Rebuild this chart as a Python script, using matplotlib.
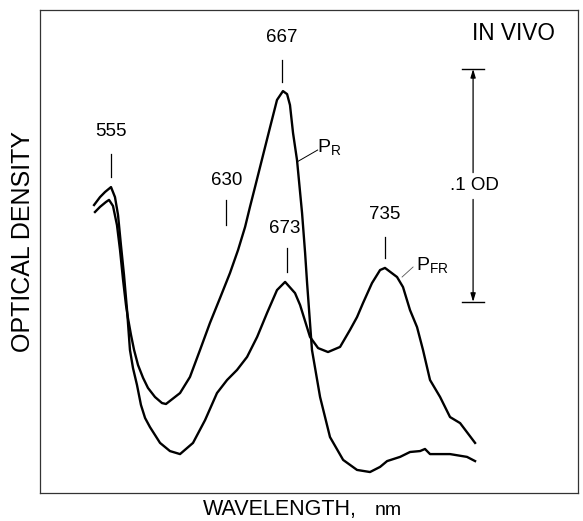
"""
In vivo absorption spectrum of phytochrome (P_R and P_FR forms).
"""
import matplotlib
matplotlib.use("Agg")
import matplotlib.pyplot as plt

plt.rcParams.update({
    "font.family": "Liberation Sans",
    "mathtext.fontset": "custom",
    "mathtext.rm": "Liberation Sans",
    "figure.facecolor": "white", "axes.facecolor": "white",
})

# ── data: wavelength (nm) vs optical density (mOD) ──────────────────────────
pr_wl = [544.5, 547.8, 551.7, 553.7, 556.3, 558.9, 560.9, 562.9, 564.8, 566.1,
         568.1, 570.1, 572.7, 576.0, 579.2, 583.8, 588.4, 591.0, 600.2, 606.7,
         613.3, 619.8, 626.4, 632.9, 638.2, 642.8, 646.0, 649.3, 652.6, 659.2,
         663.7, 667.6, 670.3, 672.2, 674.2, 676.8, 680.1, 682.1, 683.4, 686.6,
         691.9, 698.4, 707.0, 716.1, 724.6, 731.2, 735.8, 744.3, 750.8, 757.4,
         760.6, 763.9, 777.0, 788.1, 793.4]
pr_od = [120.6, 122.8, 124.9, 125.8, 123.2, 115.0, 104.3, 91.4, 80.7, 75.1,
         67.8, 61.4, 54.9, 49.4, 45.1, 41.2, 38.6, 38.2, 42.9, 49.8,
         61.4, 73.0, 83.7, 94.4, 104.3, 114.2, 122.8, 131.3, 139.9, 157.1,
         168.7, 172.5, 171.2, 166.5, 154.5, 142.9, 120.2, 103.0, 90.1, 61.4,
         41.2, 24.0, 14.2, 9.9, 9.0, 11.2, 13.7, 15.5, 17.6, 18.0,
         18.9, 16.7, 16.7, 15.5, 13.7]

pfr_wl = [543.9, 547.8, 551.1, 555.0, 557.6, 559.6, 561.5, 563.5, 565.5, 567.4,
          569.4, 572.0, 574.6, 577.3, 580.5, 587.1, 593.6, 600.2, 608.7, 616.6,
          624.4, 631.0, 637.5, 644.1, 650.7, 657.2, 663.7, 669.0, 675.5, 678.8,
          685.3, 690.6, 697.1, 705.0, 711.5, 716.1, 720.0, 725.9, 731.2, 734.4,
          742.3, 746.2, 750.8, 755.4, 759.3, 763.9, 770.5, 777.0, 783.6, 793.4]
pfr_od = [123.6, 127.0, 129.2, 131.3, 127.0, 119.3, 106.4, 93.6, 78.5, 61.4,
          53.6, 46.4, 37.8, 32.2, 28.3, 21.5, 18.0, 16.7, 21.5, 31.3,
          42.9, 48.5, 52.8, 58.4, 67.0, 77.3, 87.1, 90.6, 85.8, 80.7,
          67.0, 62.2, 60.5, 62.7, 70.0, 75.5, 81.5, 90.1, 95.7, 96.6,
          92.7, 88.4, 78.5, 71.2, 61.4, 48.5, 41.2, 32.6, 30.0, 21.5]

# peak markers: label, wavelength of the marker, marker bottom / top, label height
peak_labels = ["555", "630", "667", "673", "735"]
peak_wl     = [555.0, 630.0, 667.0, 670.3, 734.4]
peak_lo     = [135.6, 115.0, 176.4, 94.9, 100.9]
peak_hi     = [145.5, 125.8, 185.8, 105.2, 109.9]
peak_txt    = [151.5, 130.5, 191.9, 109.9, 115.9]
peak_txt_wl = [555.0, 630.6, 666.9, 669.0, 734.4]

# scale bar: 0.1 OD
bar_wl, bar_lo, bar_hi = 792.1, 82.0, 182.0

LW = 1.7
fig = plt.figure(figsize=(5.83, 5.21), dpi=100)
ax = fig.add_axes([40/583, 28/521, 538/583, 483/521])

ax.plot(pr_wl, pr_od, color="black", lw=LW, solid_joinstyle="round")
ax.plot(pfr_wl, pfr_od, color="black", lw=LW, solid_joinstyle="round")

for lab, wl, lo, hi, ty, tw in zip(peak_labels, peak_wl, peak_lo, peak_hi,
                                   peak_txt, peak_txt_wl):
    ax.plot([wl, wl], [lo, hi], color="black", lw=0.9)
    ax.text(tw, ty, lab, ha="center", va="bottom", fontsize=13.5)

# curve labels with leader lines
ax.plot([676.8, 690.3], [142.1, 147.2], color="black", lw=0.7)
ax.text(689.9, 148.5, r"$\mathrm{P_R}$", ha="left", va="center", fontsize=14)
ax.plot([745.6, 752.8], [92.7, 97.0], color="#555555", lw=0.6)
ax.text(754.7, 98.0, r"$\mathrm{P_{FR}}$", ha="left", va="center", fontsize=14)

# 0.1 OD scale bar
mid = (bar_lo + bar_hi) / 2
ax.plot([bar_wl - 7.2, bar_wl + 7.2], [bar_hi, bar_hi], color="black", lw=1.0)
ax.plot([bar_wl - 7.2, bar_wl + 7.2], [bar_lo, bar_lo], color="black", lw=1.0)
arrow = dict(arrowstyle="-|>,head_length=0.5,head_width=0.15", color="black",
             lw=0.9, shrinkA=0, shrinkB=0)
ax.annotate("", xy=(bar_wl, bar_hi), xytext=(bar_wl, mid + 5.5), arrowprops=arrow)
ax.annotate("", xy=(bar_wl, bar_lo), xytext=(bar_wl, mid - 6.0), arrowprops=arrow)
ax.text(bar_wl + 0.8, mid, ".1 OD", ha="center", va="center", fontsize=13.5)

ax.text(818.6, 197.2, "IN VIVO", ha="center", va="center", fontsize=16.3)

ax.set_xlim(508.5, 860.8)
ax.set_ylim(0, 207.3)
ax.set_xticks([]); ax.set_yticks([])
for sp in ax.spines.values():
    sp.set_linewidth(0.9)
    sp.set_color("#333333")

fig.text(23.5/583, 1 - 241.5/521, "OPTICAL DENSITY", rotation=90,
         ha="center", va="center", fontsize=18)
fig.text(203/583, 1 - 515/521, "WAVELENGTH,", ha="left", va="baseline", fontsize=15.5)
fig.text(375/583, 1 - 515/521, "nm", ha="left", va="baseline", fontsize=14)

fig.savefig("out.png", dpi=100)
